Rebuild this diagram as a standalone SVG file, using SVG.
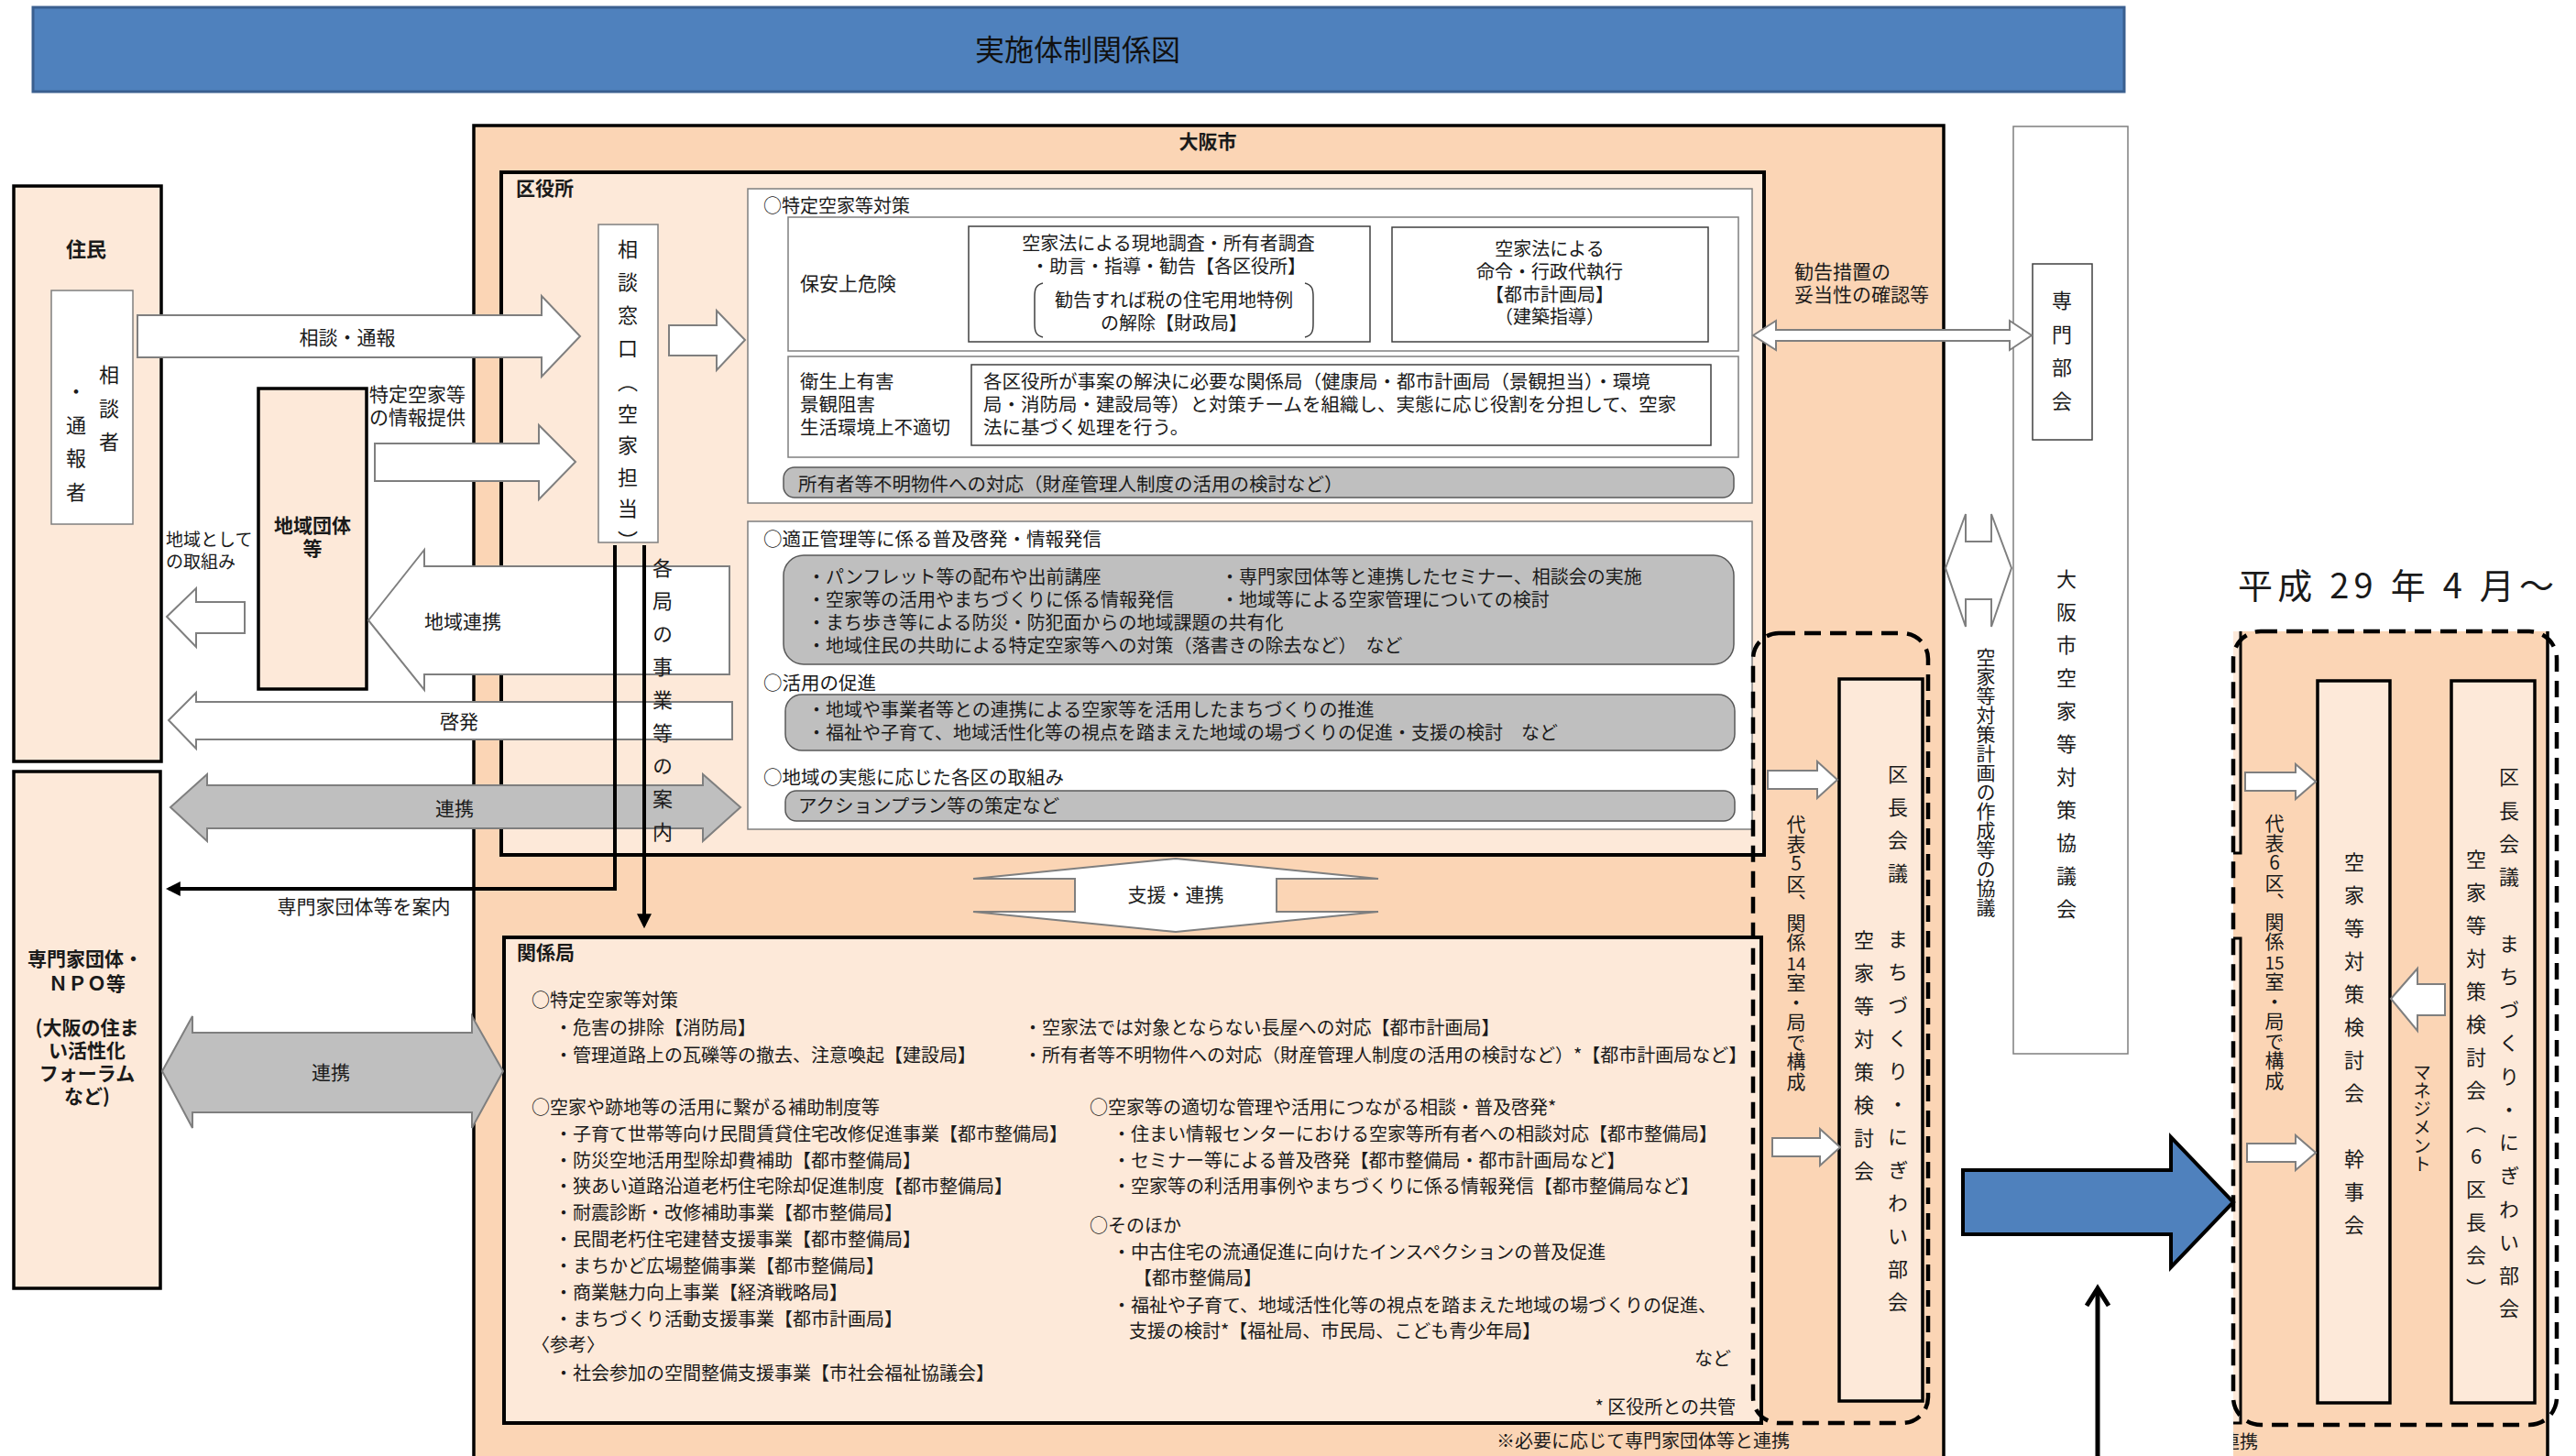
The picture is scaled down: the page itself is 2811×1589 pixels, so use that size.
<svg xmlns="http://www.w3.org/2000/svg" width="2811" height="1589" viewBox="0 0 2811 1589">
<defs>
<style>
text{font-family:"Noto Sans CJK JP","Noto Sans CJK SC",sans-serif;fill:#1a1a1a;dominant-baseline:central;font-size:20px}
.s19{font-size:19px}.s20{font-size:20px}.s205{font-size:20.5px}.s21{font-size:21px}.s22{font-size:22px}
.b{font-weight:bold}.m{text-anchor:middle}.e{text-anchor:end}
.v{writing-mode:vertical-rl}
.vu{writing-mode:vertical-rl;text-orientation:upright}
.wa{fill:#fff;stroke:#7f7f7f;stroke-width:2}
.ga{fill:#bfbfbf;stroke:#7f7f7f;stroke-width:2}
.lb{fill:#fde9d9;stroke:#000;stroke-width:3.5}
.wb{fill:#fff;stroke:#7f7f7f;stroke-width:1.5}
.db{fill:#fff;stroke:#404040;stroke-width:1.5}
.gr{fill:#bfbfbf;stroke:#595959;stroke-width:1.5}
.dash{fill:none;stroke:#000;stroke-width:4.5;stroke-dasharray:18 10}
.ln{fill:none;stroke:#000;stroke-width:4}
</style>
<marker id="ah" viewBox="0 0 10 10" refX="8" refY="5" markerWidth="4" markerHeight="4" orient="auto"><path d="M0,0 L10,5 L0,10 Z" fill="#000"/></marker>
<clipPath id="rp"><rect x="2437" y="0" width="400" height="1589"/></clipPath>
</defs>
<rect x="0" y="0" width="2811" height="1589" fill="#fff"/>

<g id="title">
<rect x="36" y="8" width="2282" height="92" fill="#4f81bd" stroke="#3a5f8f" stroke-width="3"/>
<text class="m" x="1176" y="52" style="font-size:32px;fill:#111">実施体制関係図</text>
</g>

<g id="osaka-city">
<rect x="517" y="137" width="1604" height="1480" fill="#fbd5b5" stroke="#000" stroke-width="3.5"/>
<text class="s21 b m" x="1318" y="153">大阪市</text>
</g>

<g id="ward-office">
<rect x="547" y="188" width="1378" height="745" fill="#fde9d9" stroke="#000" stroke-width="4"/>
<text class="s21 b" x="563" y="204">区役所</text>
</g>

<g id="related-bureaus">
<rect x="550" y="1023" width="1372" height="530" fill="#fde9d9" stroke="#000" stroke-width="4"/>
<text class="s21 b" x="564" y="1038">関係局</text>
<text x="580" y="1090">○特定空家等対策</text>
<text x="605" y="1120">・危害の排除【消防局】</text>
<text x="605" y="1150">・管理道路上の瓦礫等の撤去、注意喚起【建設局】</text>
<text x="1117" y="1120">・空家法では対象とならない長屋への対応【都市計画局】</text>
<text x="1117" y="1150">・所有者等不明物件への対応（財産管理人制度の活用の検討など）*【都市計画局など】</text>
<text x="580" y="1207">○空家や跡地等の活用に繋がる補助制度等</text>
<text x="605" y="1236">・子育て世帯等向け民間賃貸住宅改修促進事業【都市整備局】</text>
<text x="605" y="1265">・防災空地活用型除却費補助【都市整備局】</text>
<text x="605" y="1293">・狭あい道路沿道老朽住宅除却促進制度【都市整備局】</text>
<text x="605" y="1322">・耐震診断・改修補助事業【都市整備局】</text>
<text x="605" y="1351">・民間老朽住宅建替支援事業【都市整備局】</text>
<text x="605" y="1380">・まちかど広場整備事業【都市整備局】</text>
<text x="605" y="1409">・商業魅力向上事業【経済戦略局】</text>
<text x="605" y="1438">・まちづくり活動支援事業【都市計画局】</text>
<text x="580" y="1466">〈参考〉</text>
<text x="605" y="1497">・社会参加の空間整備支援事業【市社会福祉協議会】</text>
<text x="1189" y="1207">○空家等の適切な管理や活用につながる相談・普及啓発*</text>
<text x="1214" y="1236">・住まい情報センターにおける空家等所有者への相談対応【都市整備局】</text>
<text x="1214" y="1265">・セミナー等による普及啓発【都市整備局・都市計画局など】</text>
<text x="1214" y="1293">・空家等の利活用事例やまちづくりに係る情報発信【都市整備局など】</text>
<text x="1189" y="1336">○そのほか</text>
<text x="1214" y="1365">・中古住宅の流通促進に向けたインスペクションの普及促進</text>
<text x="1237" y="1393">【都市整備局】</text>
<text x="1214" y="1423">・福祉や子育て、地域活性化等の視点を踏まえた地域の場づくりの促進、</text>
<text x="1232" y="1451">支援の検討*【福祉局、市民局、こども青少年局】</text>
<text class="e" x="1889" y="1481">など</text>
<text class="e" x="1894" y="1534">* 区役所との共管</text>
<text class="e" x="1953" y="1571">※必要に応じて専門家団体等と連携</text>
</g>

<g id="residents">
<rect class="lb" x="15" y="203" width="161" height="628"/>
<text class="s22 b m" x="94" y="270">住民</text>
<rect class="wb" x="56" y="317" width="89" height="255"/>
<text class="s22 v" x="119" y="398" style="letter-spacing:14.5px">相談者</text>
<text class="s22 v" x="83" y="416" style="letter-spacing:14.5px">・通報者</text>
</g>

<g id="community-groups">
<rect class="lb" x="282" y="424" width="118" height="328"/>
<text class="s21 b m" x="341" y="572">地域団体</text>
<text class="s21 b m" x="341" y="597">等</text>
</g>

<g id="experts">
<rect class="lb" x="15" y="842" width="160" height="564"/>
<text class="s21 b m" x="93" y="1045">専門家団体・</text>
<text class="s21 b m" x="95" y="1072">ＮＰＯ等</text>
<text class="s21 b m" x="95" y="1120">(大阪の住ま</text>
<text class="s21 b m" x="95" y="1145">い活性化</text>
<text class="s21 b m" x="95" y="1170">フォーラム</text>
<text class="s21 b m" x="95" y="1195">など)</text>
</g>

<g id="consultation-desk">
<rect class="wb" x="653" y="245" width="65" height="347"/>
<text class="s22 v" x="685" y="261" style="letter-spacing:14px">相談窓口</text>
<text class="s22 v" x="685" y="406" style="letter-spacing:12.5px">（空家担当）</text>
</g>

<g id="panel-specific">
<rect class="wb" x="816" y="206" width="1096" height="343"/>
<text x="833" y="223">○特定空家等対策</text>
<rect class="wb" x="860" y="237" width="1037" height="146"/>
<text class="s21" x="873" y="308">保安上危険</text>
<rect class="db" x="1057" y="247" width="438" height="126"/>
<text class="s20 m" x="1275" y="264">空家法による現地調査・所有者調査</text>
<text class="s20 m" x="1275" y="289">・助言・指導・勧告【各区役所】</text>
<text class="s20 m" x="1281" y="326">勧告すれば税の住宅用地特例</text>
<text class="s20 m" x="1281" y="351">の解除【財政局】</text>
<path d="M1138,309 C1130,311 1129,316 1129,324 L1129,353 C1129,361 1130,366 1138,368" fill="none" stroke="#404040" stroke-width="1.5"/>
<path d="M1424,309 C1432,311 1433,316 1433,324 L1433,353 C1433,361 1432,366 1424,368" fill="none" stroke="#404040" stroke-width="1.5"/>
<rect class="db" x="1519" y="248" width="345" height="125"/>
<text class="s20 m" x="1691" y="270">空家法による</text>
<text class="s20 m" x="1691" y="295">命令・行政代執行</text>
<text class="s20 m" x="1691" y="320">【都市計画局】</text>
<text class="s20 m" x="1691" y="344">（建築指導）</text>
<rect class="wb" x="860" y="389" width="1037" height="110"/>
<text class="s205" x="873" y="415">衛生上有害</text>
<text class="s205" x="873" y="440">景観阻害</text>
<text class="s205" x="873" y="465">生活環境上不適切</text>
<rect class="db" x="1060" y="398" width="807" height="88"/>
<text class="s205" x="1073" y="415">各区役所が事案の解決に必要な関係局（健康局・都市計画局（景観担当）・環境</text>
<text class="s205" x="1073" y="440">局・消防局・建設局等）と対策チームを組織し、実態に応じ役割を分担して、空家</text>
<text class="s205" x="1073" y="465">法に基づく処理を行う。</text>
<rect class="gr" x="855" y="510" width="1037" height="33" rx="12"/>
<text class="s205" x="871" y="527">所有者等不明物件への対応（財産管理人制度の活用の検討など）</text>
</g>

<g id="panel-management">
<rect class="wb" x="816" y="569" width="1096" height="336"/>
<text class="s205" x="833" y="587">○適正管理等に係る普及啓発・情報発信</text>
<rect class="gr" x="855" y="606" width="1037" height="119" rx="22"/>
<text class="s20" x="881" y="628">・パンフレット等の配布や出前講座</text>
<text class="s20" x="1332" y="628">・専門家団体等と連携したセミナー、相談会の実施</text>
<text class="s20" x="881" y="653">・空家等の活用やまちづくりに係る情報発信</text>
<text class="s20" x="1332" y="653">・地域等による空家管理についての検討</text>
<text class="s20" x="881" y="678">・まち歩き等による防災・防犯面からの地域課題の共有化</text>
<text class="s20" x="881" y="703">・地域住民の共助による特定空家等への対策（落書きの除去など）　など</text>
<text class="s205" x="833" y="744">○活用の促進</text>
<rect class="gr" x="857" y="758" width="1036" height="61" rx="18"/>
<text class="s20" x="881" y="773">・地域や事業者等との連携による空家等を活用したまちづくりの推進</text>
<text class="s20" x="881" y="798">・福祉や子育て、地域活性化等の視点を踏まえた地域の場づくりの促進・支援の検討　など</text>
<text class="s205" x="833" y="847">○地域の実態に応じた各区の取組み</text>
<rect class="gr" x="857" y="863" width="1036" height="33" rx="12"/>
<text class="s205" x="871" y="878">アクションプラン等の策定など</text>
</g>

<g id="ward-chiefs-conference">
<rect class="dash" x="1913" y="691" width="191" height="862" rx="28"/>
<rect class="lb" x="2007" y="741" width="91" height="788"/>
<text class="s22 v" x="2071" y="834" style="letter-spacing:14px">区長会議　まちづくり・にぎわい部会</text>
<text class="s22 v" x="2034" y="1015" style="letter-spacing:14px">空家等対策検討会</text>
<text class="s21 vu" x="1960" y="889" style="letter-spacing:0.5px">代表5区、関係</text>
<text class="s19 m" x="1960" y="1050">14</text>
<text class="s21 vu" x="1960" y="1062" style="letter-spacing:0.5px">室・局で構成</text>
</g>

<g id="council">
<rect class="wb" x="2197" y="138" width="125" height="1012"/>
<rect class="db" x="2218" y="288" width="65" height="192"/>
<text class="s22 v" x="2250" y="317" style="letter-spacing:14.5px">専門部会</text>
<text class="s22 v" x="2255" y="621" style="letter-spacing:14px">大阪市空家等対策協議会</text>
</g>

<g id="new-structure">
<text x="2442" y="636" style="font-size:38px" textLength="345" lengthAdjust="spacing">平成 29 年 4 月～</text>
<rect x="2437" y="689" width="343" height="900" fill="#fbd5b5"/>
<rect x="2437" y="689" width="8" height="242" fill="#fde9d9"/>
<rect x="2437" y="1024" width="8" height="529" fill="#fde9d9"/>
<path d="M2445,689 V931 H2437 M2437,1024 H2445 V1553 H2437" fill="none" stroke="#000" stroke-width="3"/>
<line x1="2780" y1="689" x2="2780" y2="1589" stroke="#000" stroke-width="3.5"/>
<rect class="dash" x="2437" y="689" width="353" height="866" rx="30"/>
<rect class="lb" x="2529" y="743" width="79" height="788"/>
<text class="s22 v" x="2569" y="930" style="letter-spacing:14px">空家等対策検討会　幹事会</text>
<rect class="lb" x="2675" y="743" width="91" height="788"/>
<text class="s22 v" x="2738" y="837" style="letter-spacing:14.25px">区長会議　まちづくり・にぎわい部会</text>
<text class="s22 vu" x="2702" y="927" style="letter-spacing:14px">空家等対策検討会（6区長会）</text>
<text class="s21 vu" x="2482" y="888" style="letter-spacing:0.5px">代表6区、関係</text>
<text class="s19 m" x="2482" y="1049">15</text>
<text class="s21 vu" x="2482" y="1061" style="letter-spacing:0.5px">室・局で構成</text>
<text class="s20 v" x="2643" y="1160">マネジメント</text>
<text x="2424" y="1572" clip-path="url(#rp)">連携</text>
</g>

<g id="connectors">
<path class="wa" d="M150,344 H591 V323 L633,367 L591,411 V390 H150 Z"/>
<path class="wa" d="M730,355 H782 V339 L813,371 L782,404 V388 H730 Z"/>
<path class="wa" d="M409,484 H588 V464 L628,504 L588,545 V525 H409 Z"/>
<path class="wa" d="M182,673 L214,642 V657 H267 V691 H214 V706 Z"/>
<path class="wa" d="M402,677 L463,600 V618 H796 V736 H463 V753 Z"/>
<path class="wa" d="M184,786 L214,756 V766 H799 V807 H214 V817 Z"/>
<path class="ga" d="M186,881 L226,845 V857 H767 V845 L808,881 L767,918 V904 H226 V918 Z"/>
<path class="ga" d="M177,1169 L210,1109 V1127 H515 V1109 L549,1169 L515,1231 V1214 H210 V1231 Z"/>
<path class="wa" d="M1283,937 L1504,959 H1393 V995 H1504 L1283,1017 L1062,995 H1173 V959 H1062 Z" stroke="#404040" stroke-width="1.5"/>
<path class="wa" d="M1913,366 L1938,350 V360 H2193 V350 L2217,366 L2193,382 V372 H1938 V382 Z"/>
<path class="wa" d="M2123,620 L2145,561 V591 H2173 V561 L2195,620 L2173,684 V654 H2145 V684 Z"/>
<path class="wa" d="M1929,841 H1983 V831 L2005,851 L1983,871 V861 H1929 Z"/>
<path class="wa" d="M1934,1242 H1986 V1232 L2008,1252 L1986,1272 V1262 H1934 Z"/>
<path class="wa" d="M2450,843 H2505 V834 L2527,853 L2505,872 V863 H2450 Z"/>
<path class="wa" d="M2452,1248 H2505 V1239 L2527,1258 L2505,1277 V1268 H2452 Z"/>
<path class="wa" d="M2609,1090 L2638,1057 V1074 H2668 V1108 H2638 V1125 Z"/>
<path d="M2142,1277 H2369 V1241 L2437,1312 L2369,1383 V1347 H2142 Z" fill="#4f81bd" stroke="#000" stroke-width="4"/>
<line x1="2289" y1="1589" x2="2289" y2="1407" stroke="#000" stroke-width="5"/>
<polyline points="2277,1425 2289,1406 2301,1425" fill="none" stroke="#000" stroke-width="5"/>
<polyline class="ln" points="671,595 671,970 184,970" marker-end="url(#ah)"/>
<line class="ln" x1="703" y1="595" x2="703" y2="1010" marker-end="url(#ah)"/>
</g>

<g id="connector-labels">
<text class="s21 m" x="379" y="367">相談・通報</text>
<text class="s21" x="403" y="429">特定空家等</text>
<text class="s21" x="403" y="454">の情報提供</text>
<text class="s19" x="181" y="587">地域として</text>
<text class="s19" x="181" y="611">の取組み</text>
<text class="s21 m" x="505" y="677">地域連携</text>
<text class="s21 m" x="501" y="786">啓発</text>
<text class="s21 m" x="496" y="881">連携</text>
<text class="s21 m" x="397" y="988">専門家団体等を案内</text>
<text class="s21 m" x="361" y="1169">連携</text>
<text class="s22 v" x="723" y="609" style="letter-spacing:14px">各局の事業等の案内</text>
<text class="s21 m" x="1283" y="975">支援・連携</text>
<text class="s21" x="1958" y="295">勧告措置の</text>
<text class="s21" x="1958" y="320">妥当性の確認等</text>
<text class="s21 v" x="2167" y="707">空家等対策計画の作成等の協議</text>
</g>
</svg>
